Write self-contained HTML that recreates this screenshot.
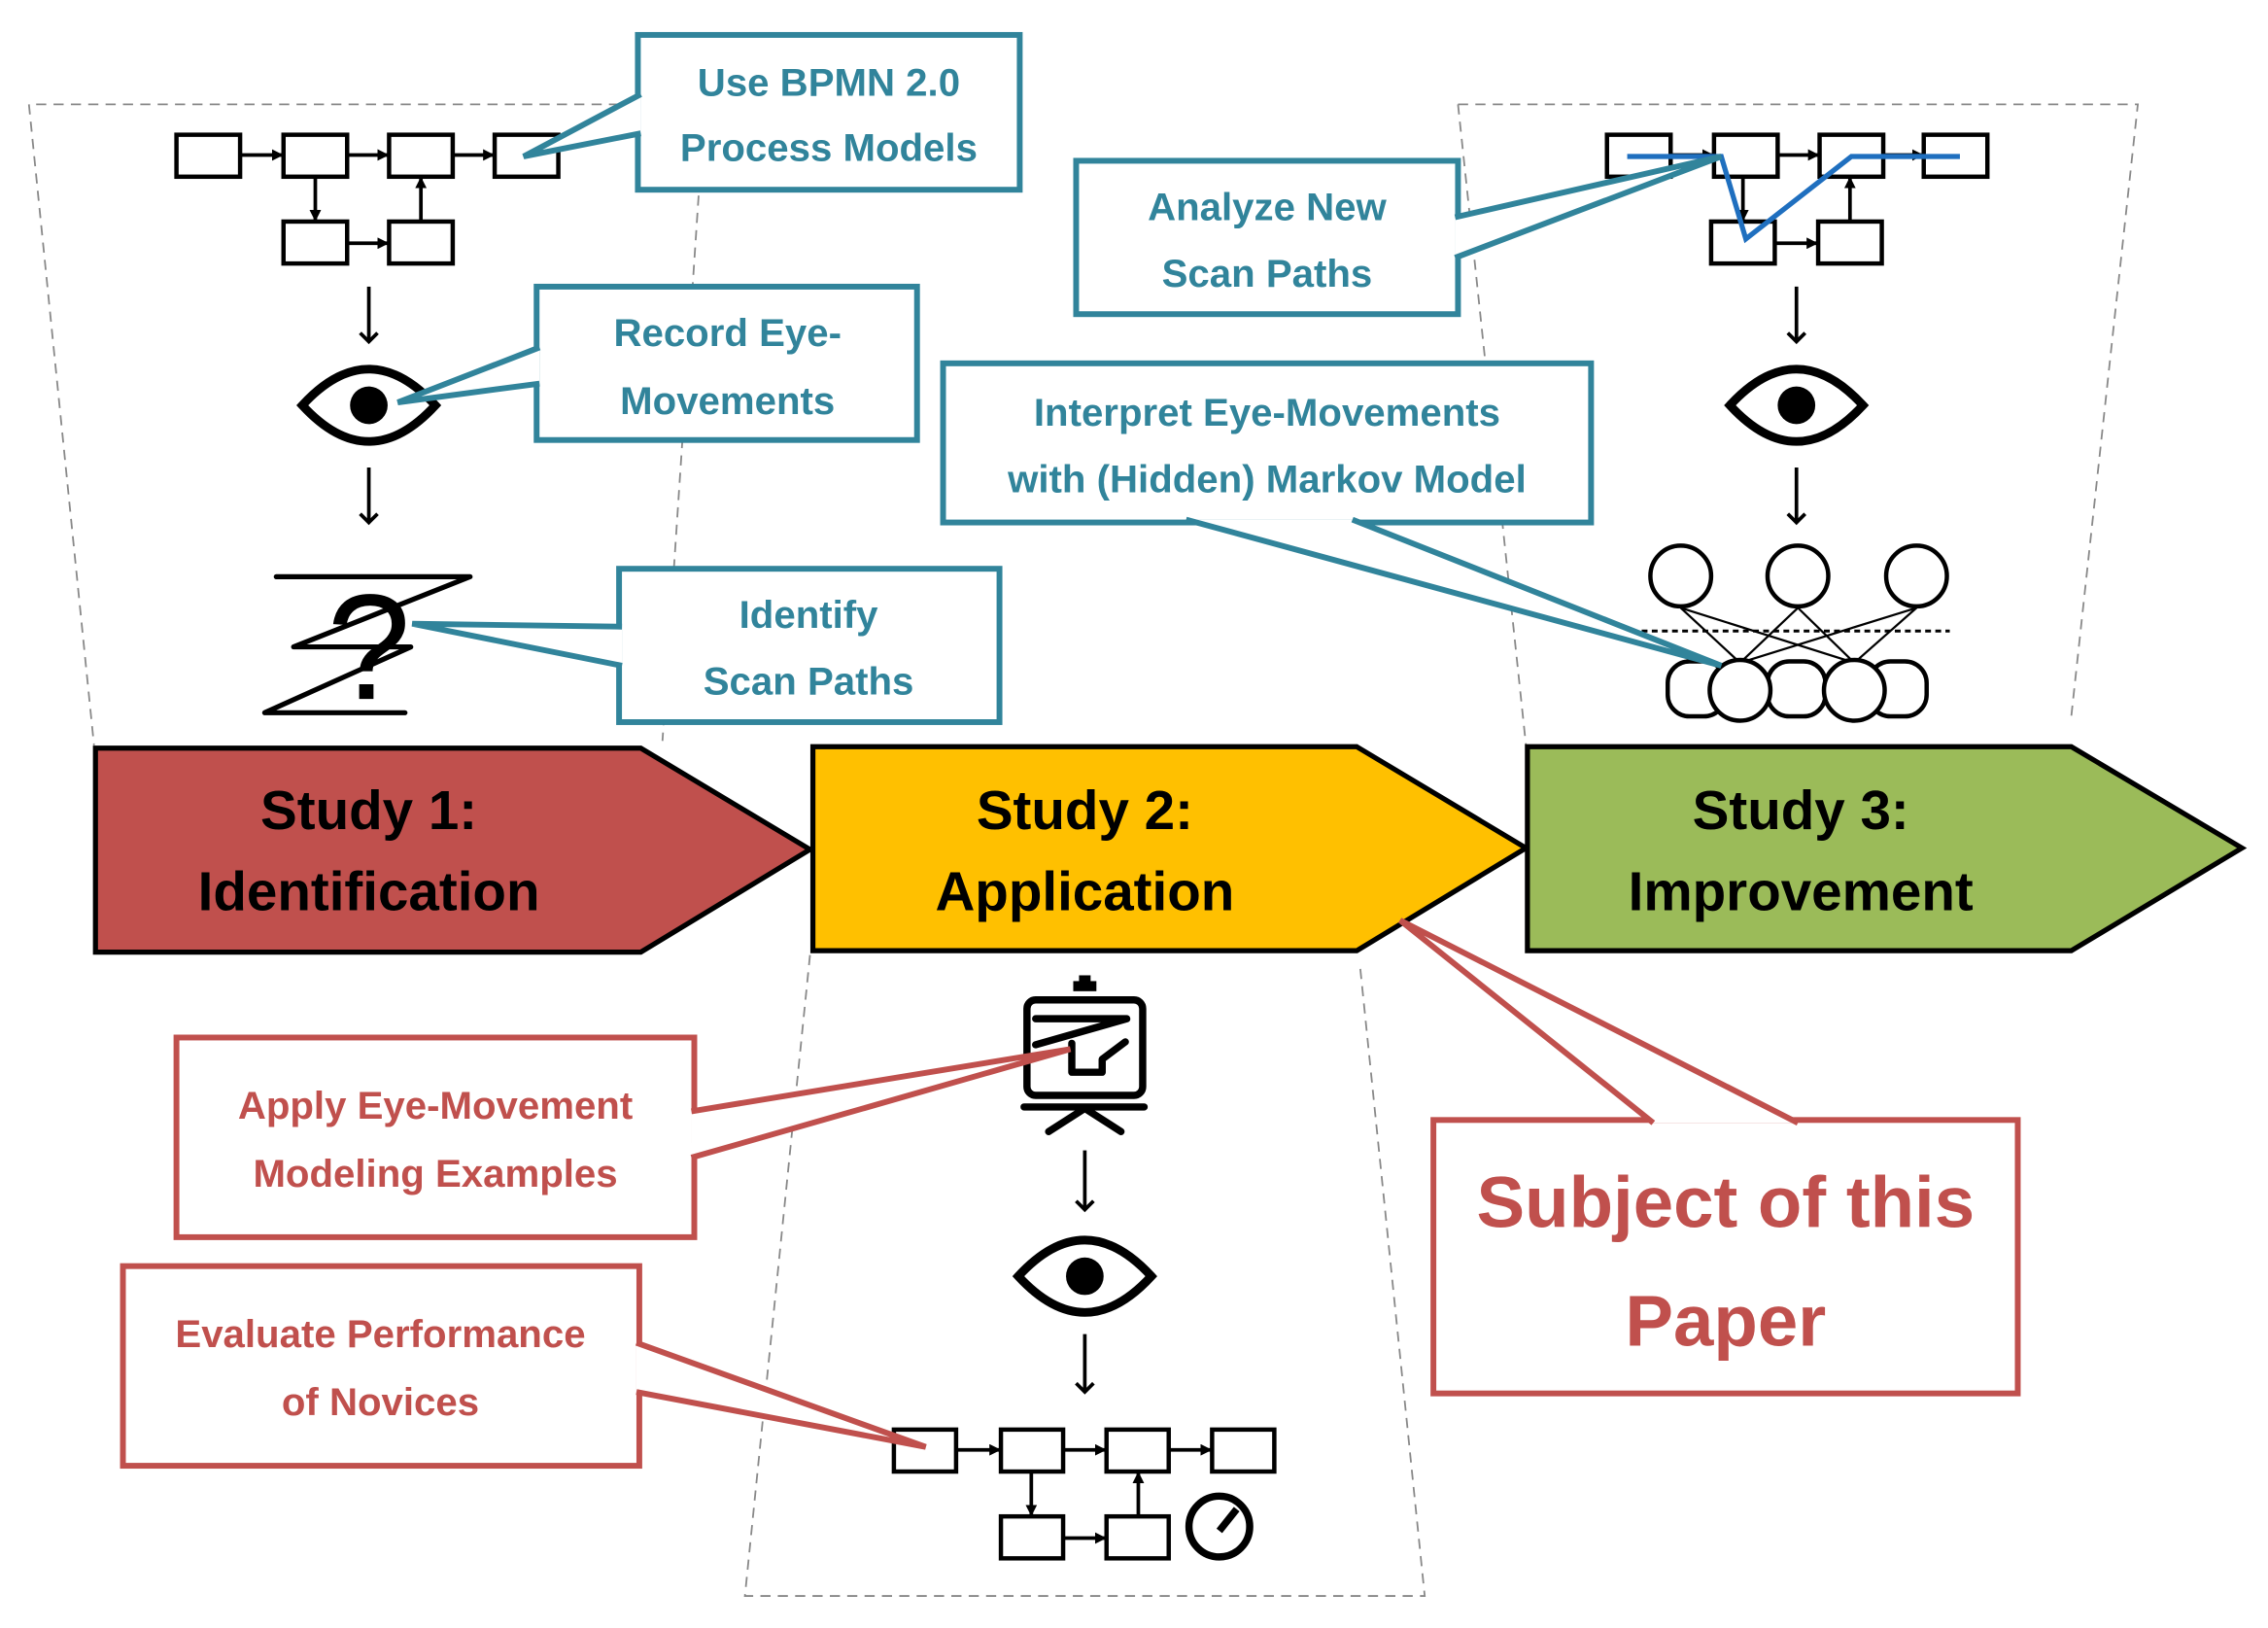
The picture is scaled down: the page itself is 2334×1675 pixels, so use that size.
<!DOCTYPE html>
<html><head><meta charset="utf-8"><style>
html,body{margin:0;padding:0;background:#fff;}
svg{display:block;}
text{font-family:"Liberation Sans",sans-serif;font-weight:bold;text-anchor:middle;}
</style></head><body>
<svg width="2334" height="1675" viewBox="0 0 1568 1125" xmlns="http://www.w3.org/2000/svg">
<defs>
<marker id="ah" markerWidth="8" markerHeight="8" refX="7" refY="4" orient="auto" markerUnits="userSpaceOnUse"><path d="M0,0 L8,4 L0,8 z" fill="#000"/></marker>
<marker id="ah2" markerWidth="14" markerHeight="14" refX="7" refY="7" orient="auto" markerUnits="userSpaceOnUse"><path d="M1,1 L7,7 L1,13" fill="none" stroke="#000" stroke-width="2.5"/></marker>
<g id="eye"><path d="M-46,0 Q0,-50 46,0 Q0,50 -46,0 Z" fill="#fff" stroke="#000" stroke-width="6"/><circle r="13" fill="#000"/></g>
</defs>
<g fill="none" stroke="#888" stroke-width="1.2" stroke-dasharray="7,5">
<path d="M440,72 L20,72 L65,515"/><path d="M483,135 L458,512"/>
<path d="M1008,72 L1478,72 L1432,495"/><path d="M1008,72 L1055,515"/>
<path d="M560,660 L515,1103 L985,1103 L940,665"/>
</g>
<g stroke="#000" stroke-width="3.5">
<path d="M66,517 L443,517 L560,587 L443,658 L66,658 Z" fill="#c0504d"/>
<path d="M562,516 L938,516 L1055,586 L938,657 L562,657 Z" fill="#ffc000"/>
<path d="M1056,516 L1432,516 L1550,586 L1432,657 L1056,657 Z" fill="#9bbb59"/>
</g>
<g font-size="38" fill="#000">
<text x="255" y="573">Study 1:</text><text x="255" y="629">Identification</text>
<text x="750" y="573">Study 2:</text><text x="750" y="629">Application</text>
<text x="1245" y="573">Study 3:</text><text x="1245" y="629">Improvement</text>
</g>
<g fill="#fff" stroke="#000" stroke-width="3">
<rect x="122" y="93" width="44" height="29"/><rect x="196" y="93" width="44" height="29"/><rect x="269" y="93" width="44" height="29"/><rect x="342" y="93" width="44" height="29"/>
<rect x="196" y="153" width="44" height="29"/><rect x="269" y="153" width="44" height="29"/>
</g>
<g stroke="#000" stroke-width="2.5" marker-end="url(#ah)">
<line x1="166" y1="107" x2="195" y2="107"/><line x1="240" y1="107" x2="268" y2="107"/><line x1="313" y1="107" x2="341" y2="107"/>
<line x1="218" y1="122" x2="218" y2="152"/><line x1="240" y1="168" x2="268" y2="168"/><line x1="291" y1="153" x2="291" y2="123"/>
</g>
<g stroke="#000" stroke-width="2.5" marker-end="url(#ah2)">
<line x1="255" y1="198" x2="255" y2="236"/><line x1="255" y1="323" x2="255" y2="361"/>
<line x1="1242" y1="198" x2="1242" y2="236"/><line x1="1242" y1="323" x2="1242" y2="361"/>
<line x1="750" y1="795" x2="750" y2="836"/><line x1="750" y1="922" x2="750" y2="962"/>
</g>
<use href="#eye" x="255" y="280"/>
<use href="#eye" x="1242" y="280"/>
<use href="#eye" x="750" y="882"/>
<path d="M191,398.5 L325,398.5 L203,447 L284,447 L183,492.5 L280,492.5" fill="none" stroke="#000" stroke-width="3.5" stroke-linejoin="round" stroke-linecap="round"/>
<text x="255" y="483" font-size="104" fill="#000" style="font-weight:normal">?</text>
<g fill="#fff" stroke="#000" stroke-width="3">
<rect x="1111" y="93" width="44" height="29"/><rect x="1185" y="93" width="44" height="29"/><rect x="1258" y="93" width="44" height="29"/><rect x="1330" y="93" width="44" height="29"/>
<rect x="1183" y="153" width="44" height="29"/><rect x="1257" y="153" width="44" height="29"/>
</g>
<g stroke="#000" stroke-width="2.5" marker-end="url(#ah)">
<line x1="1155" y1="107" x2="1184" y2="107"/><line x1="1229" y1="107" x2="1257" y2="107"/><line x1="1302" y1="107" x2="1329" y2="107"/>
<line x1="1205" y1="122" x2="1205" y2="152"/><line x1="1227" y1="168" x2="1256" y2="168"/><line x1="1279" y1="153" x2="1279" y2="123"/>
</g>
<path d="M1125,108 L1190,108 L1207,165 L1280,108 L1355,108" fill="none" stroke="#1f6fbf" stroke-width="3.5"/>
<g stroke="#000" stroke-width="1.5">
<line x1="1162" y1="420" x2="1203" y2="458"/><line x1="1162" y1="420" x2="1282" y2="458"/>
<line x1="1243" y1="420" x2="1203" y2="458"/><line x1="1243" y1="420" x2="1282" y2="458"/>
<line x1="1325" y1="420" x2="1203" y2="458"/><line x1="1325" y1="420" x2="1282" y2="458"/>
</g>
<line x1="1135" y1="436" x2="1348" y2="436" stroke="#000" stroke-width="2" stroke-dasharray="4,3"/>
<g fill="#fff" stroke="#000" stroke-width="3">
<circle cx="1162" cy="398" r="21"/><circle cx="1243" cy="398" r="21"/><circle cx="1325" cy="398" r="21"/>
<rect x="1153" y="457" width="40" height="38" rx="15"/><rect x="1222" y="457" width="40" height="38" rx="15"/><rect x="1292" y="457" width="40" height="38" rx="15"/>
<circle cx="1203" cy="477" r="21"/><circle cx="1282" cy="477" r="21"/>
</g>
<rect x="746" y="674" width="8" height="5" fill="#000"/><rect x="742" y="678" width="16" height="7" fill="#000"/>
<g fill="none" stroke="#000" stroke-width="5" stroke-linecap="round" stroke-linejoin="round">
<rect x="710" y="691" width="80" height="66" rx="6"/>
<line x1="708" y1="765" x2="791" y2="765"/>
<line x1="750" y1="766" x2="725" y2="782"/><line x1="750" y1="766" x2="775" y2="782"/>
<path d="M716,704 L779,704 L716,722"/>
<path d="M741,721 L741,741 L762,741 L762,732 L778,720"/>
</g>
<g fill="#fff" stroke="#000" stroke-width="3">
<rect x="618" y="988" width="43" height="29"/><rect x="692" y="988" width="43" height="29"/><rect x="765" y="988" width="43" height="29"/><rect x="838" y="988" width="43" height="29"/>
<rect x="692" y="1048" width="43" height="29"/><rect x="765" y="1048" width="43" height="29"/>
</g>
<g stroke="#000" stroke-width="2.5" marker-end="url(#ah)">
<line x1="661" y1="1002" x2="691" y2="1002"/><line x1="735" y1="1002" x2="764" y2="1002"/><line x1="808" y1="1002" x2="837" y2="1002"/>
<line x1="713" y1="1017" x2="713" y2="1047"/><line x1="735" y1="1063" x2="764" y2="1063"/><line x1="787" y1="1048" x2="787" y2="1018"/>
</g>
<circle cx="843" cy="1055" r="21" fill="none" stroke="#000" stroke-width="5"/>
<line x1="843" y1="1058" x2="855" y2="1043" stroke="#000" stroke-width="5"/>
<g fill="#fff" stroke="#31849b" stroke-width="4">
<rect x="441" y="24" width="264" height="107"/>
<path d="M443,65 L362,108 L443,92"/>
<rect x="371" y="198" width="263" height="106"/>
<path d="M373,240 L275,278 L373,265"/>
<rect x="428" y="393" width="263" height="106"/>
<path d="M430,433 L285,431 L430,460"/>
<rect x="744" y="111" width="264" height="106"/>
<path d="M1006,150 L1190,108 L1006,178"/>
<rect x="652" y="251" width="448" height="110"/>
<path d="M820,359 L1190,460 L935,359"/>
</g>
<g font-size="27" fill="#31849b">
<text x="573" y="66">Use BPMN 2.0</text><text x="573" y="111">Process Models</text>
<text x="503" y="239">Record Eye-</text><text x="503" y="286">Movements</text>
<text x="559" y="434">Identify</text><text x="559" y="480">Scan Paths</text>
<text x="876" y="152">Analyze New</text><text x="876" y="198">Scan Paths</text>
<text x="876" y="294">Interpret Eye-Movements</text><text x="876" y="340">with (Hidden) Markov Model</text>
</g>
<g fill="#fff" stroke="#c0504d" stroke-width="4">
<rect x="122" y="717" width="358" height="138"/>
<path d="M478,768 L740,725 L478,800"/>
<rect x="85" y="875" width="357" height="138"/>
<path d="M440,928 L640,1000 L440,962"/>
<rect x="991" y="774" width="404" height="189"/>
<path d="M1143,776 L968,636 L1243,776"/>
</g>
<g font-size="27" fill="#c0504d">
<text x="301" y="773">Apply Eye-Movement</text><text x="301" y="820">Modeling Examples</text>
<text x="263" y="931">Evaluate Performance</text><text x="263" y="978">of Novices</text>
</g>
<g font-size="50" fill="#c0504d">
<text x="1193" y="848">Subject of this</text><text x="1193" y="930">Paper</text>
</g>
</svg>
</body></html>
